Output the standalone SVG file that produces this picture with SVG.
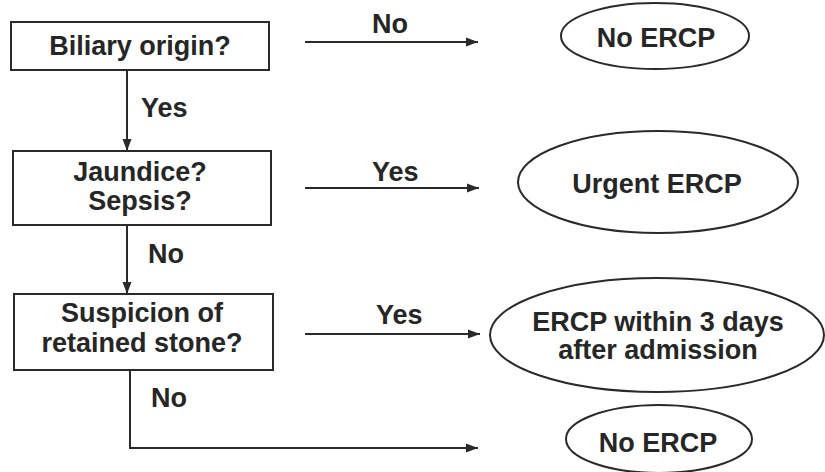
<svg xmlns="http://www.w3.org/2000/svg" width="825" height="472" viewBox="0 0 825 472">
<style>
text{font-family:"Liberation Sans",Arial,sans-serif;font-weight:bold;font-size:27px;fill:#262626}
.c{text-anchor:middle}
.box{fill:#fff;stroke:#2a2a2a;stroke-width:2}
.ell{fill:#fff;stroke:#2a2a2a;stroke-width:2}
.ln{fill:none;stroke:#2a2a2a;stroke-width:2}
</style>
<defs>
<marker id="ah" viewBox="0 0 12 10" refX="12" refY="5" markerWidth="12" markerHeight="10" markerUnits="userSpaceOnUse" orient="auto">
<path d="M0,0.5 L12,5 L0,9.5 Z" fill="#2a2a2a"/>
</marker>
</defs>
<rect width="825" height="472" fill="#fff"/>
<g id="connectors">
<line class="ln" x1="127" y1="70" x2="127" y2="151" marker-end="url(#ah)"/>
<line class="ln" x1="127" y1="225" x2="127" y2="294" marker-end="url(#ah)"/>
<polyline class="ln" points="130,370 130,448 478,448" marker-end="url(#ah)"/>
<line class="ln" x1="305" y1="42" x2="478" y2="42" marker-end="url(#ah)"/>
<line class="ln" x1="305" y1="188" x2="479" y2="188" marker-end="url(#ah)"/>
<line class="ln" x1="305" y1="334" x2="480" y2="334" marker-end="url(#ah)"/>
<text x="141" y="117">Yes</text>
<text x="148" y="263">No</text>
<text x="151" y="407">No</text>
<text x="372" y="33">No</text>
<text x="372" y="181">Yes</text>
<text x="376" y="324">Yes</text>
</g>
<g id="biliary">
<rect class="box" x="11" y="22" width="258" height="48"/>
<text class="c" x="140" y="55">Biliary origin?</text>
</g>
<g id="jaundice">
<rect class="box" x="13" y="151" width="258" height="74"/>
<text class="c" x="140" y="181">Jaundice?</text>
<text class="c" x="140" y="210">Sepsis?</text>
</g>
<g id="suspicion">
<rect class="box" x="14" y="294" width="259" height="76"/>
<text class="c" x="142" y="322">Suspicion of</text>
<text class="c" x="142" y="352">retained stone?</text>
</g>
<g id="noercp1">
<ellipse class="ell" cx="655" cy="36" rx="94" ry="33"/>
<text class="c" x="656" y="47">No ERCP</text>
</g>
<g id="urgent">
<ellipse class="ell" cx="658" cy="182" rx="140" ry="51"/>
<text class="c" x="657" y="193">Urgent ERCP</text>
</g>
<g id="within3">
<ellipse class="ell" cx="657" cy="335" rx="167" ry="57"/>
<text class="c" x="658" y="331">ERCP within 3 days</text>
<text class="c" x="658" y="359">after admission</text>
</g>
<g id="noercp2">
<ellipse class="ell" cx="659" cy="439" rx="93" ry="34"/>
<text class="c" x="658" y="452">No ERCP</text>
</g>
</svg>
